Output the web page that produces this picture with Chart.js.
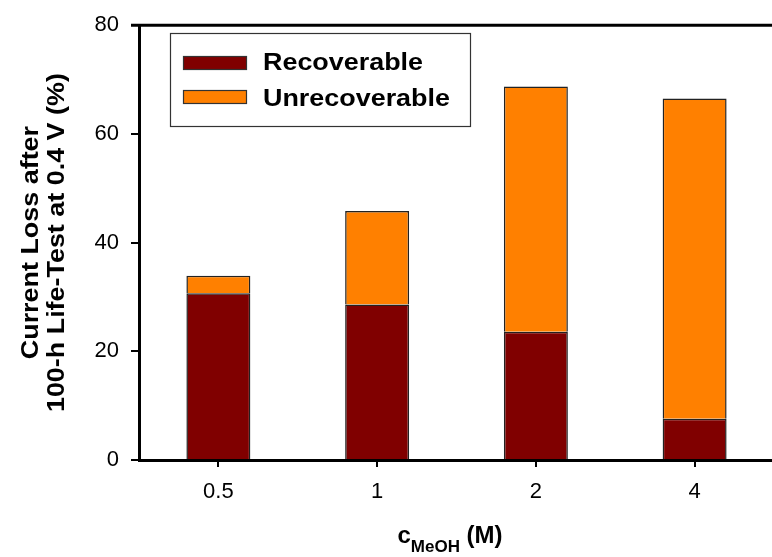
<!DOCTYPE html>
<html>
<head>
<meta charset="utf-8">
<script src="https://cdn.jsdelivr.net/npm/chart.js@4/dist/chart.umd.min.js"></script>
<style>
  html, body { margin: 0; padding: 0; background: #fff; }
  #wrap { width: 772px; height: 557px; overflow: hidden; position: relative; }
  #chart { display: block; }
</style>
</head>
<body>
<div id="wrap"><canvas id="chart" width="776" height="557"></canvas></div>
<script>
const categories = ["0.5", "1", "2", "4"];
const recoverable = [30.7, 28.6, 23.6, 7.6];
const unrecoverable = [3.2, 17.2, 45.1, 58.9];
const yMin = 0;
const yMax = 80;
const yStep = 20;

const FONT = "'Liberation Sans', Arial, sans-serif";

// text drawn a bit wider than normal, like the original figure
function stretchedText(ctx, text, x, y, sx, align) {
    ctx.save();
    ctx.translate(x, y);
    ctx.scale(sx, 1);
    ctx.textAlign = align || "left";
    ctx.fillText(text, 0, 0);
    ctx.restore();
}

const decorations = {
    id: "decorations",
    afterDraw(chart) {
        const ctx = chart.ctx;
        const area = chart.chartArea;

        // top frame line
        ctx.save();
        ctx.strokeStyle = "#000";
        ctx.lineWidth = 3;
        ctx.beginPath();
        ctx.moveTo(area.left - 8, area.top);
        ctx.lineTo(chart.width, area.top);
        ctx.stroke();

        // legend box
        ctx.lineWidth = 1.2;
        ctx.strokeStyle = "#333";
        ctx.strokeRect(170.5, 33.5, 300, 93);
        const baselines = [70, 106];
        const swatchTops = [56, 90];
        ctx.font = "bold 23px " + FONT;
        ctx.textBaseline = "alphabetic";
        chart.data.datasets.forEach((ds, i) => {
            ctx.fillStyle = ds.backgroundColor;
            ctx.fillRect(183, swatchTops[i], 64, 14);
            ctx.strokeRect(183.5, swatchTops[i] + 0.5, 63, 13);
            ctx.fillStyle = "#000";
            stretchedText(ctx, ds.label, 263, baselines[i], 1.17);
        });

        // y title, rotated, two lines
        ctx.fillStyle = "#000";
        ctx.font = "bold 23px " + FONT;
        ctx.textBaseline = "middle";
        const yc = (area.top + area.bottom) / 2;
        ctx.save();
        ctx.translate(32, yc);
        ctx.rotate(-Math.PI / 2);
        stretchedText(ctx, "Current Loss after", 0, 0, 1.17, "center");
        ctx.restore();
        ctx.save();
        ctx.translate(58, yc);
        ctx.rotate(-Math.PI / 2);
        stretchedText(ctx, "100-h Life-Test at 0.4 V (%)", 0, 0, 1.17, "center");
        ctx.restore();

        // x title with subscript
        ctx.textBaseline = "alphabetic";
        ctx.textAlign = "left";
        const big = "bold 24px " + FONT;
        const small = "bold 17px " + FONT;
        ctx.font = big;
        const wc = ctx.measureText("c").width;
        const wm = ctx.measureText(" (M)").width;
        ctx.font = small;
        const ws = ctx.measureText("MeOH").width;
        let x = 450 - (wc + ws + wm) / 2;
        ctx.font = big;
        ctx.fillText("c", x, 543);
        x += wc;
        ctx.font = small;
        ctx.fillText("MeOH", x, 552);
        x += ws;
        ctx.font = big;
        ctx.fillText(" (M)", x, 543);
        ctx.restore();
    }
};

new Chart(document.getElementById("chart"), {
    type: "bar",
    data: {
        labels: categories,
        datasets: [
            {
                label: "Recoverable",
                data: recoverable,
                backgroundColor: "#800000",
                borderColor: "#222",
                borderWidth: 1.5,
            },
            {
                label: "Unrecoverable",
                data: unrecoverable,
                backgroundColor: "#ff8000",
                borderColor: "#222",
                borderWidth: 1.5,
            },
        ],
    },
    options: {
        responsive: false,
        animation: false,
        barPercentage: 0.403,
        categoryPercentage: 1,
        layout: { padding: { top: 15, right: 2, left: 0, bottom: 0 } },
        plugins: {
            legend: { display: false },
            tooltip: { enabled: false },
        },
        scales: {
            x: {
                stacked: true,
                afterFit: (s) => { s.height = 97; },
                grid: {
                    drawOnChartArea: false,
                    offset: false,
                    tickLength: 7,
                    lineWidth: 2,
                    color: "#000",
                },
                border: { color: "#000", width: 3 },
                ticks: {
                    color: "#000",
                    padding: 12,
                    font: { family: FONT, size: 22 },
                },
            },
            y: {
                stacked: true,
                min: yMin,
                max: yMax,
                afterFit: (s) => { s.width = 139; },
                grid: {
                    drawOnChartArea: false,
                    tickLength: 8,
                    lineWidth: 2,
                    color: "#000",
                },
                border: { color: "#000", width: 3 },
                ticks: {
                    stepSize: yStep,
                    color: "#000",
                    padding: 12,
                    font: { family: FONT, size: 22 },
                },
            },
        },
    },
    plugins: [decorations],
});
</script>
</body>
</html>
